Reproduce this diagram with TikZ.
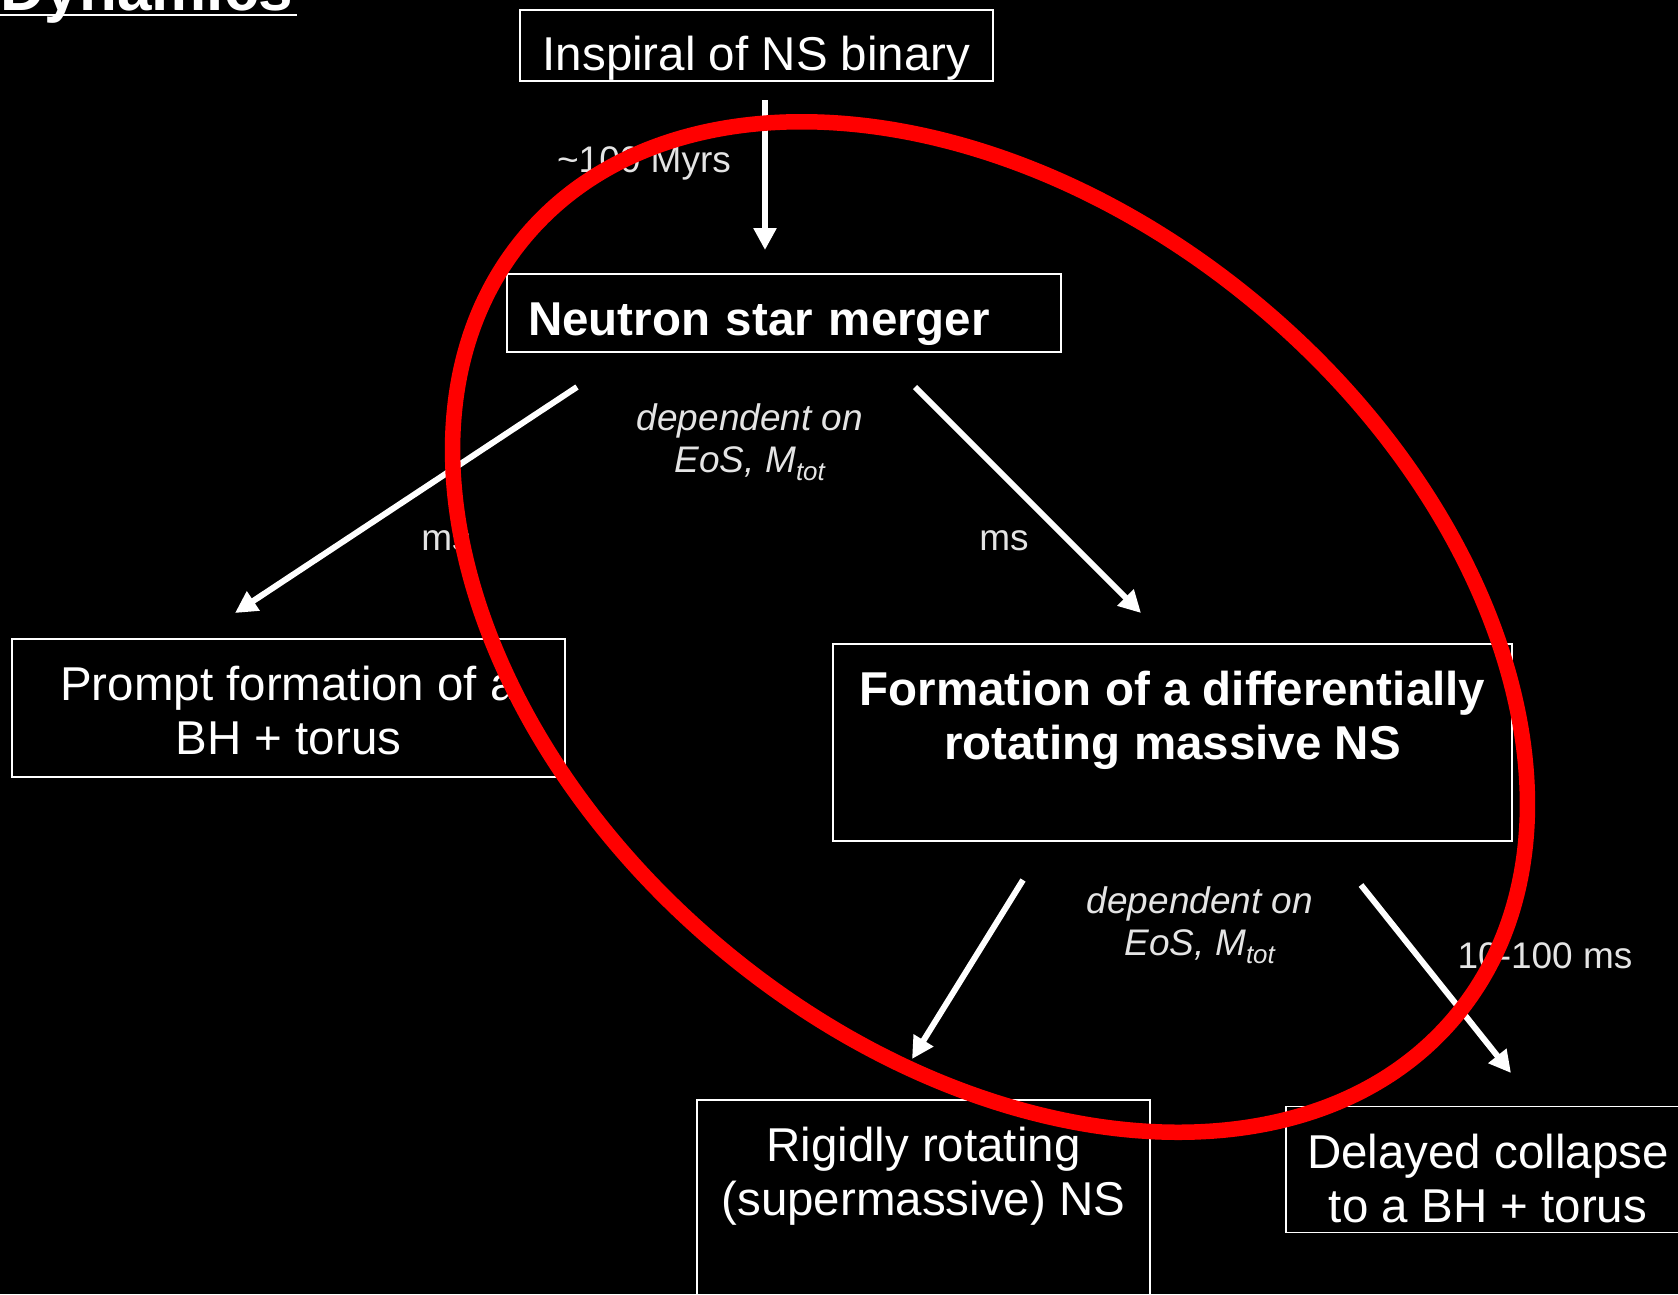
\documentclass[tikz,border=0pt]{standalone}
\usepackage{fontspec}
\setmainfont{Liberation Sans}
\usetikzlibrary{arrows.meta}
\definecolor{lblgray}{RGB}{228,228,228}
\definecolor{ringred}{RGB}{255,0,0}

\begin{document}
\begin{tikzpicture}[x=1pt,y=-1pt,
    stage/.style={draw=white,line width=1.5pt,text=white,align=center,inner sep=0pt,
      font=\fontsize{47.5}{54}\selectfont},
    stagebold/.style={stage,font=\fontsize{47.5}{54}\selectfont\bfseries},
    timelbl/.style={text=lblgray,align=center,inner sep=0pt,font=\fontsize{37}{42}\selectfont},
    flow/.style={draw=white,line width=6pt,-{Triangle[length=22pt,width=22pt]}}]
  \useasboundingbox (0,0) rectangle (1678,1294);
  \clip (0,0) rectangle (1678,1294);
  \fill[black] (0,0) rectangle (1678,1294);

  % title, cut at the top edge
  \node[anchor=base west,inner sep=0pt,text=white,font=\fontsize{62}{70}\selectfont\bfseries] (title) at (0,10) {Dynamics};
  \draw[white,line width=2.5pt] (0,15) -- (297,15);

  % stages
  \node[stage,minimum width=473pt,minimum height=71pt,text height=60pt] (inspiral) at (756.5,45.5) {Inspiral of NS binary};
  \node[stagebold,minimum width=554pt,minimum height=78pt,text height=55.5pt,text width=512pt,inner xsep=21pt,align=left] (merger) at (784,313) {Neutron star merger};
  \node[stage,minimum width=553pt,minimum height=138pt] (prompt) at (288.5,708) {\rule{0pt}{38.6pt}Prompt formation of a\\BH + torus};
  \node[stagebold,minimum width=679pt,minimum height=197pt] (massive) at (1172.5,742.5) {Formation of a differentially\\rotating massive NS\\\mbox{}};
  \node[stage,minimum width=453pt,minimum height=197pt] (rigid) at (923.5,1198.5) {Rigidly rotating\\(supermassive) NS\\\mbox{}};
  \node[stage,minimum width=404pt,minimum height=126pt] (delayed) at (1488,1169.5) {\rule{0pt}{51.6pt}Delayed collapse\\to a BH + torus};

  % arrow ends
  \coordinate (a1s) at (765,100);
  \coordinate (a1e) at (765,250);
  \coordinate (a2s) at (577,387);
  \coordinate (a2e) at (235,613);
  \coordinate (a3s) at (915,387);
  \coordinate (a3e) at (1141,613);
  \coordinate (a4s) at (1023,880);
  \coordinate (a4e) at (912,1059);
  \coordinate (a5s) at (1361,885);
  \coordinate (a5e) at (1511,1073);

  \draw[flow] (a1s) -- (a1e);
  \draw[flow] (a2s) -- (a2e);
  \draw[flow] (a3s) -- (a3e);
  \draw[flow] (a4s) -- (a4e);
  \draw[flow] (a5s) -- (a5e);

  % time scales
  \node[timelbl,anchor=base] (tinsp) at (644,172) {\textasciitilde100 Myrs};
  \node[timelbl] (dep1) at (750,442) {\itshape dependent on\\\itshape EoS, M\textsubscript{tot}};
  \node[timelbl,anchor=base] (tprompt) at (446,550) {ms};
  \node[timelbl,anchor=base] (tmassive) at (1004,550) {ms};
  \node[timelbl] (dep2) at (1200,925) {\itshape dependent on\\\itshape EoS, M\textsubscript{tot}};
  \node[timelbl,anchor=base] (tdelay) at (1545,968) {10-100 ms};

  % highlight
  \draw[ringred,line width=15.5pt,rotate around={-40:(990,627)}] (990,627) ellipse [x radius=607pt,y radius=419pt];
\end{tikzpicture}
\end{document}
